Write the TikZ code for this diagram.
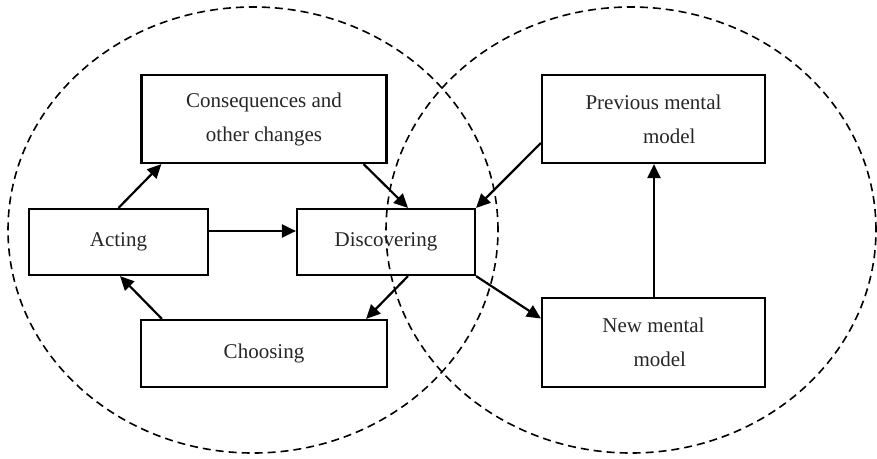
\documentclass[tikz,border=0pt]{standalone}
\usepackage{fontspec}
\setmainfont{Liberation Serif}
\usetikzlibrary{arrows.meta}
\begin{document}
\begin{tikzpicture}[x=1pt,y=-1pt,
  box/.style={draw, line width=2.2pt, align=center, inner sep=0pt,
    font=\fontsize{21}{34}\selectfont, text=black!85},
  link/.style={line width=2.2pt, -{Triangle[length=14pt,width=13pt]}},
  zone/.style={line width=1.6pt, dash pattern=on 8pt off 5pt}]
  \useasboundingbox (0,0) rectangle (877,458);

  % two overlapping zones
  \draw[zone] (253,230) ellipse [x radius=245pt, y radius=223pt];
  \draw[zone] (631,230) ellipse [x radius=245pt, y radius=223pt];

  % boxes
  \node[box, minimum width=245pt, minimum height=88pt] (cons) at (264,119)
    {\raisebox{-2pt}{Consequences and}\\\raisebox{-2pt}{other changes}};
  \node[box, minimum width=179pt, minimum height=66pt] (act) at (118.5,242) {Acting};
  \node[box, minimum width=178pt, minimum height=66pt] (disc) at (386,242) {Discovering};
  \node[box, minimum width=246pt, minimum height=67pt] (choose) at (264,353.5) {Choosing};
  \node[box, minimum width=223pt, minimum height=88pt] (prev) at (653.5,119)
    {Previous mental\\\hspace*{1.5em}model};
  \node[box, minimum width=223pt, minimum height=89pt] (new) at (653.5,342.5)
    {New mental\\\hspace*{0.6em}model};

  % learning cycle
  \draw[link] (act.north) -- ([xshift=21pt]cons.south west);
  \draw[link] ([xshift=-24pt]cons.south east) -- ([xshift=22pt]disc.north);
  \draw[link] ([yshift=11pt]act.east) -- ([yshift=11pt]disc.west);
  \draw[link] ([xshift=22pt]disc.south) -- ([xshift=-22pt]choose.north east);
  \draw[link] ([xshift=22pt]choose.north west) -- ([xshift=1.5pt]act.south);

  % mental model update
  \draw[link] ([yshift=-24pt]prev.west) -- (disc.north east);
  \draw[link] (disc.south east) -- ([yshift=24pt]new.west);
  \draw[link] ([xshift=0.5pt]new.north) -- ([xshift=0.5pt]prev.south);
\end{tikzpicture}
\end{document}
